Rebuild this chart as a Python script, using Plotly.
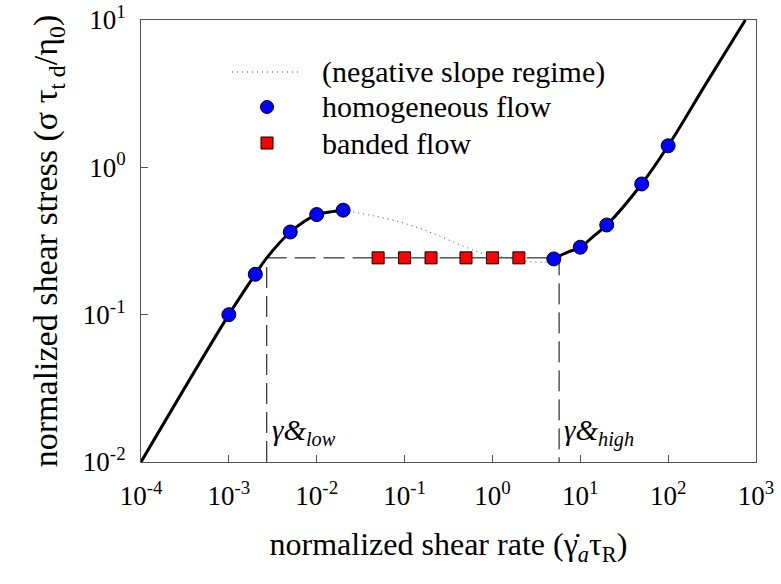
import math
import plotly.graph_objects as go

# ---- data ----
# solid model curve, low-rate branch
low_x = [1e-4, 1e-3, 2e-3, 2.7e-3, 5e-3, 7e-3, 1e-2, 1.4e-2, 2e-2]
low_y = [0.01, 0.10, 0.188, 0.243, 0.364, 0.424, 0.478, 0.498, 0.512]
# solid model curve, high-rate branch
high_x = [5, 7, 10, 14, 20, 50, 100, 270, 757]
high_y = [0.239, 0.264, 0.287, 0.339, 0.406, 0.771, 1.40, 3.7, 10.0]
# dotted curve (negative slope regime)
neg_x = [0.02, 0.081, 0.194, 0.465, 0.78, 1.58, 2.66, 4.12, 5]
neg_y = [0.512, 0.432, 0.363, 0.292, 0.261, 0.241, 0.229, 0.228, 0.239]
# homogeneous flow points
hom_x = [1e-3, 2e-3, 5e-3, 1e-2, 2e-2, 5, 10, 20, 50, 100]
hom_y = [0.100, 0.188, 0.364, 0.478, 0.512, 0.239, 0.287, 0.406, 0.771, 1.40]
# banded flow points
band_x = [0.05, 0.1, 0.2, 0.5, 1, 2]
band_y = [0.243, 0.243, 0.243, 0.243, 0.243, 0.243]
# plateau / critical rates
x_low = 2.7e-3
x_high = 5.74
sigma_plateau = 0.243
y_floor = 0.01

x_tickvals = [1e-4, 1e-3, 1e-2, 1e-1, 1e0, 1e1, 1e2, 1e3]
x_ticktext = ["10<sup>-4</sup>", "10<sup>-3</sup>", "10<sup>-2</sup>", "10<sup>-1</sup>",
              "10<sup>0</sup>", "10<sup>1</sup>", "10<sup>2</sup>", "10<sup>3</sup>"]
y_tickvals = [1e-2, 1e-1, 1e0, 1e1]
y_ticktext = ["10<sup>-2</sup>", "10<sup>-1</sup>", "10<sup>0</sup>", "10<sup>1</sup>"]

legend_names = ["(negative slope regime)", "homogeneous flow", "banded flow"]

FONT = "Liberation Serif, DejaVu Serif, serif"

fig = go.Figure()

# dashed construction lines
fig.add_trace(go.Scatter(
    x=[x_low, x_low, x_high, x_high],
    y=[y_floor, sigma_plateau, sigma_plateau, y_floor],
    mode="lines", line=dict(color="black", width=1, dash="21px,8px"),
    showlegend=False, hoverinfo="skip"))

# solid curve
fig.add_trace(go.Scatter(x=low_x, y=low_y, mode="lines", line_shape="spline",
                         line=dict(color="black", width=3), showlegend=False))
fig.add_trace(go.Scatter(x=high_x, y=high_y, mode="lines", line_shape="spline",
                         line=dict(color="black", width=3), showlegend=False))

DOT = dict(color="#444444", width=1, dash="1px,4px")
CIRC = dict(color="#0000FF", line=dict(color="black", width=1))
SQR = dict(color="#FF0000", line=dict(color="black", width=1))

# dotted negative-slope curve
fig.add_trace(go.Scatter(x=neg_x, y=neg_y, mode="lines", line_shape="spline",
                         line=DOT, name=legend_names[0], showlegend=False))
fig.add_trace(go.Scatter(x=hom_x, y=hom_y, mode="markers", name=legend_names[1],
                         marker=dict(symbol="circle", size=14, **CIRC), showlegend=False))
fig.add_trace(go.Scatter(x=band_x, y=band_y, mode="markers", name=legend_names[2],
                         marker=dict(symbol="square", size=12, **SQR), showlegend=False))

# ---- hand-drawn legend (paper coordinates) ----
L, B, W, H = 141, 462, 615, 442          # plot area in pixels


def px(xp):
    return (xp - L) / W


def py(yp):
    return (B - yp) / H


leg_rows = [72, 107, 143]
sym_x = 267
txt_x = 320
fig.add_shape(type="line", xref="paper", yref="paper",
              x0=px(232), x1=px(300), y0=py(leg_rows[0]), y1=py(leg_rows[0]),
              line=DOT)
fig.add_shape(type="circle", xref="paper", yref="paper", xsizemode="pixel", ysizemode="pixel",
              xanchor=px(sym_x), yanchor=py(leg_rows[1]), x0=-6.5, x1=6.5, y0=-6.5, y1=6.5,
              fillcolor=CIRC["color"], line=CIRC["line"])
fig.add_shape(type="rect", xref="paper", yref="paper", xsizemode="pixel", ysizemode="pixel",
              xanchor=px(sym_x), yanchor=py(leg_rows[2]), x0=-6, x1=6, y0=-6, y1=6,
              fillcolor=SQR["color"], line=SQR["line"])
for name, row in zip(legend_names, leg_rows):
    fig.add_annotation(x=px(txt_x), y=py(row), xref="paper", yref="paper",
                       text=name, showarrow=False, xanchor="left", yanchor="middle",
                       font=dict(family=FONT, size=30, color="black"))

# labels for critical rates
fig.add_annotation(x=math.log10(x_low), y=math.log10(y_floor), xref="x", yref="y",
                   xshift=3, yshift=30,
                   text="<i>γ&</i><sub><i>low</i></sub>", showarrow=False,
                   xanchor="left", yanchor="middle", font=dict(family=FONT, size=29, color="black"))
fig.add_annotation(x=math.log10(x_high), y=math.log10(y_floor), xref="x", yref="y",
                   xshift=3, yshift=30,
                   text="<i>γ&</i><sub><i>high</i></sub>", showarrow=False,
                   xanchor="left", yanchor="middle", font=dict(family=FONT, size=29, color="black"))

axis_common = dict(showgrid=False, zeroline=False, showline=True, linecolor="#555555",
                   linewidth=1, mirror=True, ticks="inside", ticklen=7, tickcolor="#555555",
                   automargin=False,
                   tickfont=dict(family=FONT, size=27, color="black"))

fig.update_xaxes(type="log", range=[-4, 3], tickvals=x_tickvals, ticktext=x_ticktext,
                 ticklabelstandoff=10,
                 title=dict(text="normalized shear rate (γ̇<sub><i>a</i></sub>τ<sub>R</sub>)",
                            font=dict(family=FONT, size=32, color="black"), standoff=22),
                 **axis_common)
fig.update_yaxes(type="log", range=[-2, 1], tickvals=y_tickvals, ticktext=y_ticktext,
                 ticklabelstandoff=9,
                 title=dict(text="normalized shear stress (σ τ<sub>t d</sub>/η<sub>0</sub>)",
                            font=dict(family=FONT, size=34, color="black"), standoff=14),
                 **axis_common)

fig.update_layout(
    width=781, height=584,
    margin=dict(l=141, r=25, t=20, b=122),
    plot_bgcolor="white", paper_bgcolor="white",
    font=dict(family=FONT, color="black"),
    showlegend=False,
)

fig.write_html("out.html", config={"displayModeBar": False},
               post_script="document.body.style.margin='0';document.body.style.overflow='hidden';")
